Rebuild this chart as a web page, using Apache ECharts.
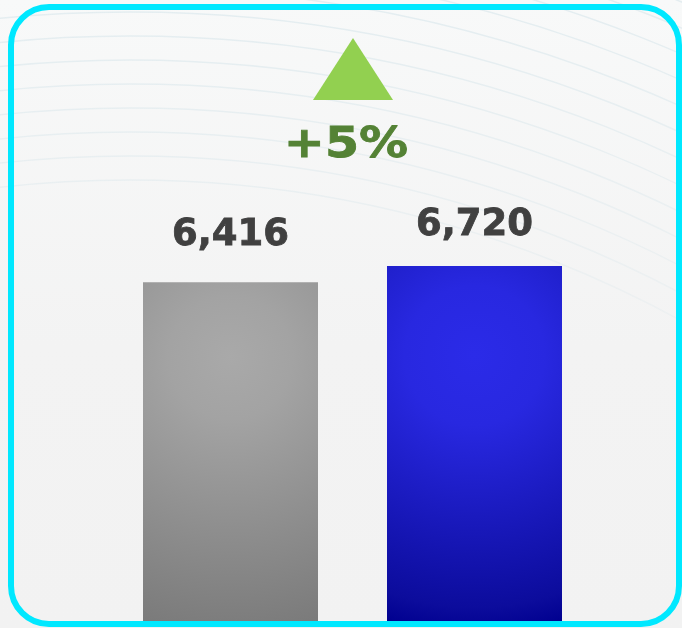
<!DOCTYPE html>
<html>
<head>
<meta charset="utf-8">
<script src="https://cdn.jsdelivr.net/npm/echarts@6/dist/echarts.min.js"></script>
<style>
  html, body { margin: 0; padding: 0; background: #f2f2f2; }
  #chart { width: 682px; height: 628px; }
</style>
</head>
<body>
<div id="chart"></div>
<script>
// ---- data ----
const categories = ['Previous', 'Current'];
const values = [6416, 6720];
const changeLabel = '+' + Math.round((values[1] / values[0] - 1) * 100) + '%';

// ---- styles ----
const FONT = 'DejaVu Sans';
const labelDistances = [28, 22];
const barFills = [
  { type: 'radial', x: 0.5, y: 0.22, r: 1.6,
    colorStops: [{ offset: 0, color: '#a9a9a9' }, { offset: 0.22, color: '#a3a3a3' }, { offset: 1, color: '#7a7a7a' }] },
  { type: 'radial', x: 0.5, y: 0.25, r: 1.6,
    colorStops: [{ offset: 0, color: '#2b2be8' }, { offset: 0.25, color: '#2828e0' }, { offset: 0.9, color: '#0c0c9c' }, { offset: 1, color: '#00008f' }] }
];

const chart = echarts.init(document.getElementById('chart'), null, { renderer: 'canvas' });

// background arcs
const arcs = [];
for (let r = 1150; r <= 1520; r += 24) {
  arcs.push({
    type: 'circle', silent: true, z: -10,
    shape: { cx: 130, cy: 1330, r: r },
    style: {
      fill: null, lineWidth: 1.5,
      stroke: { type: 'linear', global: true, x: 0, y: 0, x2: 0, y2: 480,
        colorStops: [{ offset: 0, color: 'rgba(185,212,222,0.32)' }, { offset: 1, color: 'rgba(185,212,222,0)' }] }
    }
  });
}

chart.setOption({
  backgroundColor: '#f2f2f2',
  animation: false,
  grid: { left: 108.5, right: 85.5, top: 91.3, bottom: 4, containLabel: false },
  xAxis: { type: 'category', data: categories, show: false },
  yAxis: { type: 'value', min: 0, max: 10000, show: false },
  series: [{
    type: 'bar',
    barWidth: 175,
    z: 2,
    data: values.map((v, i) => ({
      value: v,
      itemStyle: { color: barFills[i] },
      label: { distance: labelDistances[i] }
    })),
    label: {
      show: true, position: 'top',
      formatter: p => p.value.toLocaleString('en-US'),
      fontFamily: FONT, fontWeight: 'bold', fontSize: 37, color: '#404040',
      textBorderColor: '#404040', textBorderWidth: 0.8
    }
  }],
  graphic: [
    { type: 'rect', silent: true, z: -20, shape: { x: 0, y: 0, width: 682, height: 628 },
      style: { fill: { type: 'linear', x: 0, y: 0, x2: 0, y2: 1,
        colorStops: [{ offset: 0, color: '#f8f9f9' }, { offset: 0.55, color: '#f3f3f3' }, { offset: 1, color: '#f2f2f2' }] } } },
    ...arcs,
    { type: 'polygon', z: 5, shape: { points: [[353, 38], [313, 100], [393, 100]] },
      style: { fill: '#92d050' } },
    { type: 'text', z: 5, x: 346, y: 145.5, scaleX: 1.14,
      style: { text: changeLabel, fontFamily: FONT, fontWeight: 'bold', fontSize: 43, fill: '#548235',
        stroke: '#548235', lineWidth: 0.8,
        textAlign: 'center', textVerticalAlign: 'middle' } },
    { type: 'rect', z: 10, silent: true, shape: { x: 11, y: 7, width: 668, height: 617, r: 38 },
      style: { fill: null, stroke: '#00e8ff', lineWidth: 6 } }
  ]
});
</script>
</body>
</html>
